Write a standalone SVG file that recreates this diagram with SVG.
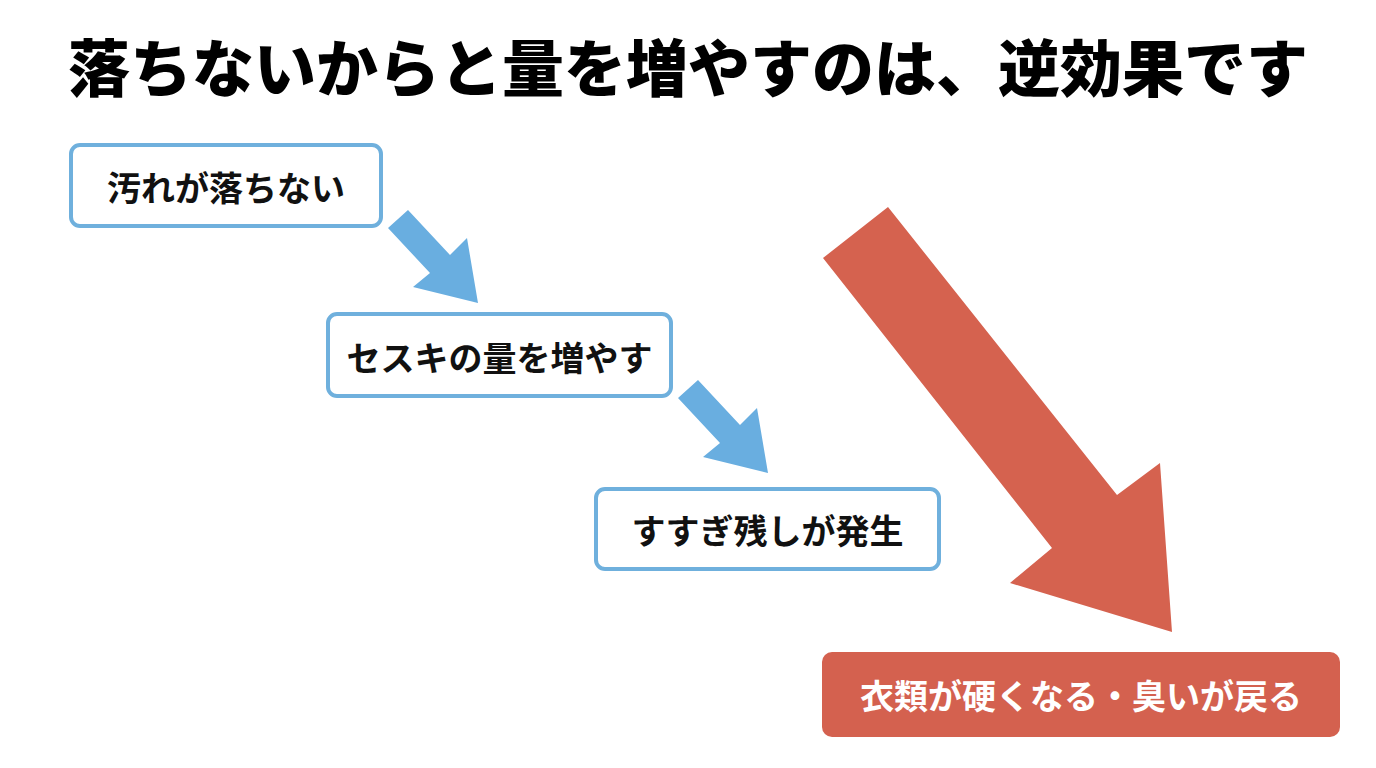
<svg xmlns="http://www.w3.org/2000/svg" width="1376" height="768" viewBox="0 0 1376 768">
  <style>
    .title { font-family: "Noto Sans CJK JP", "Noto Sans CJK SC", sans-serif; font-weight: 900; font-size: 62px; fill: #000; }
    .box { fill: #ffffff; stroke: #6fb0dd; stroke-width: 4; }
    .label { font-family: "Noto Sans CJK JP", "Noto Sans CJK SC", sans-serif; font-weight: 700; font-size: 34px; fill: #111; text-anchor: middle; dominant-baseline: central; }
    .result { fill: #d4614f; }
    .result-label { font-family: "Noto Sans CJK JP", "Noto Sans CJK SC", sans-serif; font-weight: 700; font-size: 34px; fill: #ffffff; text-anchor: middle; dominant-baseline: central; }
    .blue-arrow { fill: #69aee0; }
    .red-arrow { fill: #d5624f; }
  </style>
  <rect width="1376" height="768" fill="#ffffff"/>
  <text class="title" x="68" y="65" dominant-baseline="central">落ちないからと量を増やすのは、逆効果です</text>

  <g id="connectors">
    <polygon class="blue-arrow" points="388,228 408,210 450,255 467,238 478,303 413,287 430,273"/>
    <polygon class="blue-arrow" points="678,398 698,380 740,425 757,408 768,473 703,457 720,443"/>
    <polygon class="red-arrow" points="823,258 888,207 1117,495 1160,463 1172,632 1010,583 1052,548"/>
  </g>

  <g id="node1">
    <rect class="box" x="71" y="145" width="310" height="81" rx="9"/>
    <text class="label" x="226" y="186">汚れが落ちない</text>
  </g>
  <g id="node2">
    <rect class="box" x="328" y="314" width="343" height="82" rx="9"/>
    <text class="label" x="499.5" y="356">セスキの量を増やす</text>
  </g>
  <g id="node3">
    <rect class="box" x="596" y="489" width="343" height="80" rx="9"/>
    <text class="label" x="767.5" y="529">すすぎ残しが発生</text>
  </g>
  <g id="node4">
    <rect class="result" x="822" y="652" width="518" height="85" rx="10"/>
    <text class="result-label" x="1081" y="694">衣類が硬くなる・臭いが戻る</text>
  </g>
</svg>
